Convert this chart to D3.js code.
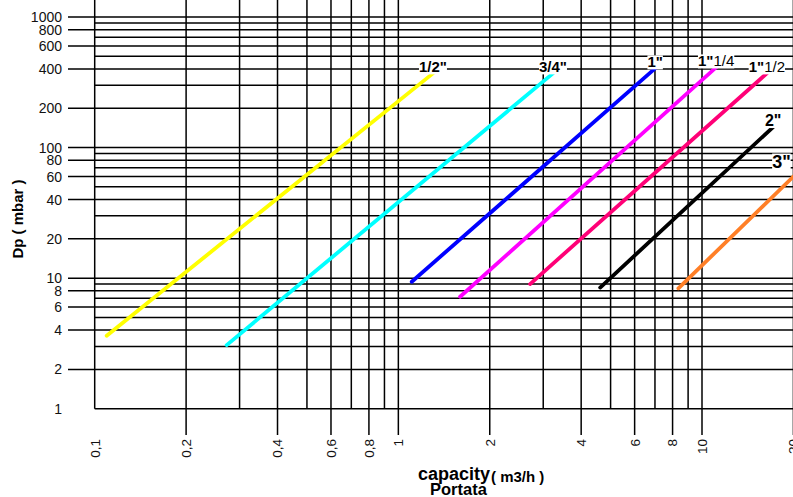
<html lang="en">
  <head>
    <meta charset="utf-8">
    <title>Dp - capacity</title>
    <script src="https://d3js.org/d3.v7.min.js"></script>
    <style>
      body { margin: 0; background: white; }
      text { font-family: "Liberation Sans", Arial, sans-serif; }
    </style>
  </head>
  <body>
    <div id="my_dataviz"></div>

<script>

// grid values and tick labels
var xGrid = [0.1,0.2,0.3,0.4,0.5,0.6,0.7,0.8,0.9,1,2,3,4,5,6,7,8,9,10,20]
var xLabels = [0.1,0.2,0.4,0.6,0.8,1,2,4,6,8,10,20]
var yGrid = [1,2,3,4,5,6,7,8,9,10,20,30,40,50,60,70,80,90,100,200,300,400,500,600,700,800,900,1000]
var yLabels = [1,2,4,6,8,10,20,40,60,80,100,200,400,600,800,1000]

// one line per pipe size: start and end (capacity m3/h, Dp mbar)
var sizes    = ['1/2"', '3/4"', '1"', '1"1/4', '1"1/2', '2"', '3"']
var qStart   = [0.1095, 0.272, 1.107, 1.597, 2.715, 4.62, 8.36]
var qEnd     = [1.30, 3.23, 7.01, 11.13, 16.35, 17.15, 20]
var dpStart  = [3.62, 3.07, 9.39, 7.20, 9.01, 8.47, 8.35]
var dpEnd    = [370, 370, 404, 411, 370, 143.6, 60]
var colors   = ["#ffff00", "#00ffff", "#0000ff", "#ff00ff", "#ff0077", "#000000", "#ff7f27"]

var W = 793, H = 497

var svg = d3.select("#my_dataviz")
  .append("svg")
    .attr("width", W)
    .attr("height", H)

// log scales
var x = d3.scaleLog().domain([0.1, 10]).range([94.7, 702])
var y = d3.scaleLog().domain([1, 1000]).range([408.7, 17])

var left = x(0.1), bottom = y(1), top = y(1000)

// horizontal grid lines
svg.append("g")
  .selectAll("line")
  .data(yGrid)
  .enter()
  .append("line")
    .attr("x1", function(d){ return (yLabels.indexOf(d) >= 0 && d != 1) ? 68 : left })
    .attr("x2", W)
    .attr("y1", function(d){ return y(d) })
    .attr("y2", function(d){ return y(d) })
    .attr("stroke", "black")
    .attr("stroke-width", 1.5)

// vertical grid lines
svg.append("g")
  .selectAll("line")
  .data(xGrid)
  .enter()
  .append("line")
    .attr("x1", function(d){ return x(d) })
    .attr("x2", function(d){ return x(d) })
    .attr("y1", top)
    .attr("y2", function(d){ return (xLabels.indexOf(d) >= 0 && d != 0.1) ? 435 : bottom })
    .attr("stroke", "black")
    .attr("stroke-width", 1.5)

// y tick labels
svg.append("g")
  .selectAll("text")
  .data(yLabels)
  .enter()
  .append("text")
    .attr("x", 62)
    .attr("y", function(d){ return y(d) })
    .attr("dy", "0.36em")
    .attr("text-anchor", "end")
    .style("font-size", "14px")
    .attr("fill", "#111")
    .text(function(d){ return d })

// x tick labels (rotated, decimal comma)
svg.append("g")
  .selectAll("text")
  .data(xLabels)
  .enter()
  .append("text")
    .attr("transform", function(d){ return "translate(" + x(d) + ",439) rotate(-90)" })
    .attr("dy", "0.36em")
    .attr("text-anchor", "end")
    .style("font-size", "13.5px")
    .attr("fill", "#111")
    .text(function(d){ return String(d).replace(".", ",") })

// axis titles
svg.append("text")
    .attr("transform", "translate(18,219) rotate(-90)")
    .attr("dy", "0.36em")
    .attr("text-anchor", "middle")
    .style("font-size", "15px")
    .style("font-weight", "bold")
    .text("Dp ( mbar )")

svg.append("text")
    .attr("x", 418)
    .attr("y", 480)
    .style("font-size", "18px")
    .style("font-weight", "bold")
    .text("capacity")

svg.append("text")
    .attr("x", 491)
    .attr("y", 482)
    .style("font-size", "15px")
    .style("font-weight", "bold")
    .text("( m3/h )")

svg.append("text")
    .attr("x", 430)
    .attr("y", 495)
    .style("font-size", "16.5px")
    .style("font-weight", "bold")
    .text("Portata")

// the curves
var lineGen = d3.line()
  .x(function(d){ return x(d[0]) })
  .y(function(d){ return y(d[1]) })

sizes.forEach(function(s, i) {
  svg.append("path")
    .datum([[qStart[i], dpStart[i]], [qEnd[i], dpEnd[i]]])
    .attr("d", lineGen)
    .attr("stroke", colors[i])
    .attr("stroke-width", 3.8)
    .attr("stroke-linecap", "round")
    .attr("fill", "none")
})

// size labels at the line ends, white behind so the grid is hidden
sizes.forEach(function(s, i) {
  var px = x(qEnd[i]), py = y(dpEnd[i]) - 1
  var fs = 15
  if (s == '2"') fs = 16
  if (s == '3"') { fs = 18; px = px - 12; py = py - 8 }
  var g = svg.append("g")
  var t = g.append("text")
    .attr("x", px)
    .attr("y", py)
    .attr("text-anchor", "middle")
    .style("font-size", fs + "px")
  var parts = s.split('"')
  t.append("tspan").style("font-weight", "bold").text(parts[0] + '"')
  if (parts[1]) t.append("tspan").style("font-weight", "normal").text(parts[1])
  var bb = t.node().getBBox()
  g.insert("rect", "text")
    .attr("x", bb.x)
    .attr("y", bb.y + 2)
    .attr("width", bb.width)
    .attr("height", bb.height - 3)
    .attr("fill", "white")
})

</script>
  </body>
</html>
